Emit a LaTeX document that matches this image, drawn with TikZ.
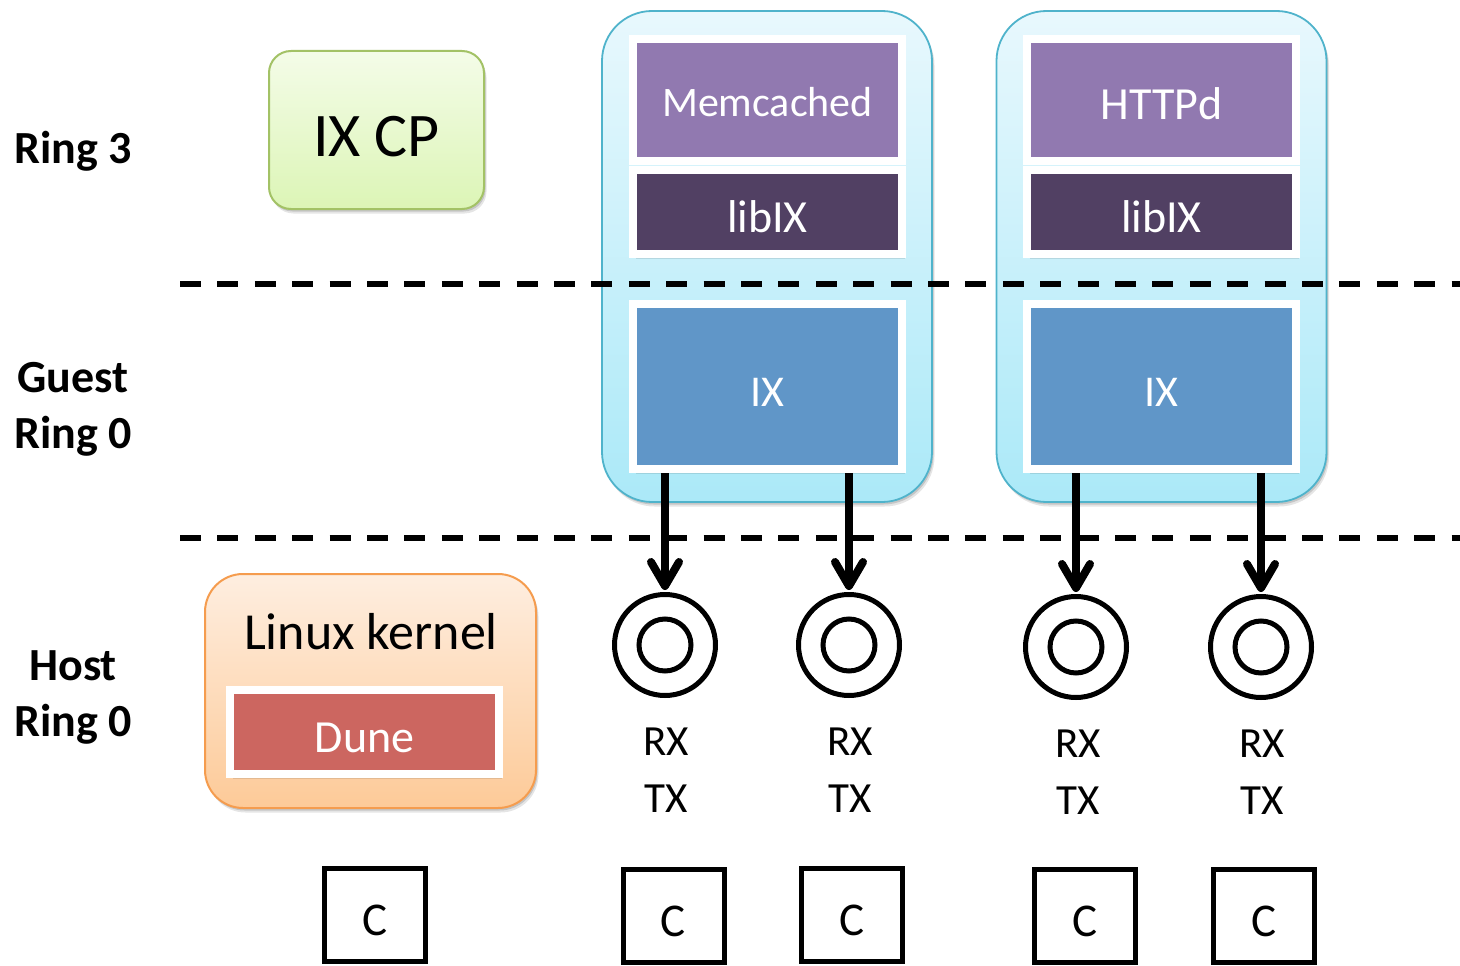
\documentclass[tikz,border=0pt]{standalone}
\usepackage{fontspec}
\setmainfont{Carlito}
\usetikzlibrary{arrows.meta,shadows}
\definecolor{cyanTop}{HTML}{E8F8FD}
\definecolor{cyanBot}{HTML}{ABE9F8}
\definecolor{cyanLine}{HTML}{4FB3CB}
\definecolor{greenTop}{HTML}{F4FCE8}
\definecolor{greenBot}{HTML}{DCF5B6}
\definecolor{greenLine}{HTML}{A3C266}
\definecolor{peachTop}{HTML}{FEEEE0}
\definecolor{peachBot}{HTML}{FDCA98}
\definecolor{peachLine}{HTML}{F59C4E}
\definecolor{appPurple}{HTML}{9179B0}
\definecolor{libPurple}{HTML}{514063}
\definecolor{ixBlue}{HTML}{6096C8}
\definecolor{duneRed}{HTML}{CC6660}
\begin{document}
\begin{tikzpicture}[x=1pt,y=-1pt,
  softshadow/.style={general shadow={shadow xshift=2.5pt,shadow yshift=-4.5pt,fill=black,opacity=.10},
                     general shadow={shadow xshift=1.5pt,shadow yshift=-2.5pt,fill=black,opacity=.14}},
  container/.style={rounded corners=50pt,draw=cyanLine,line width=1.8pt,top color=cyanTop,bottom color=cyanBot,
                    minimum width=330pt,minimum height=491pt,inner sep=0pt,softshadow},
  inbox/.style={draw=white,line width=8pt,minimum width=269pt,inner sep=0pt,text=white,
                font=\fontsize{46}{55}\selectfont,text depth=0pt,softshadow},
  ring/.style={circle,draw=black,line width=5pt,inner sep=0pt},
  cbox/.style={draw=black,line width=5pt,minimum width=101pt,minimum height=93pt,inner sep=0pt,
               font=\fontsize{47}{56}\selectfont,text height=41pt,text depth=0pt},
  lvl/.style={align=center,font=\bfseries\fontsize{46}{56}\selectfont},
  rxtx/.style={align=center,font=\fontsize{43}{57}\selectfont},
  dashline/.style={line width=5.5pt,dash pattern=on 21pt off 16.4pt},
  arr/.style={line width=8pt,-{Straight Barb[length=24pt,width=28pt,round]},shorten >=2pt}
]
\useasboundingbox (0,0) rectangle (1460,966);

% level labels
\node[lvl,anchor=base] (l3) at (73,163) {Ring 3};
\node[lvl] (lg) at (73,409) {Guest\\Ring 0};
\node[lvl] (lh) at (73,697.5) {Host\\Ring 0};

% IX CP
\node[rounded corners=22pt,draw=greenLine,line width=2pt,top color=greenTop,bottom color=greenBot,
      minimum width=215pt,minimum height=158pt,inner sep=0pt,softshadow,
      font=\fontsize{62}{74}\selectfont,text height=52pt,text depth=0pt] (ixcp) at (376.5,130) {IX CP};

% containers
\node[container] (contA) at (767,256.5) {};
\node[container] (contB) at (1161.5,256.5) {};

% column A
\node[inbox,fill=appPurple,minimum height=121pt,font=\fontsize{42}{50}\selectfont,text height=34pt] (appA) at (767.5,100) {Memcached};
\node[inbox,fill=libPurple,minimum height=84.5pt,text height=40.5pt] (libA) at (767.5,211.75) {libIX};
\node[inbox,fill=ixBlue,minimum height=165pt,font=\fontsize{44}{53}\selectfont,text height=39pt] (ixA) at (767.5,386.5) {IX};
% column B
\node[inbox,fill=appPurple,minimum height=121pt,text height=40pt] (appB) at (1161.5,100) {HTTPd};
\node[inbox,fill=libPurple,minimum height=84.5pt,text height=40.5pt] (libB) at (1161.5,211.75) {libIX};
\node[inbox,fill=ixBlue,minimum height=165pt,font=\fontsize{44}{53}\selectfont,text height=39pt] (ixB) at (1161.5,386.5) {IX};

% Linux kernel
\node[rounded corners=38pt,draw=peachLine,line width=2pt,top color=peachTop,bottom color=peachBot,
      minimum width=331pt,minimum height=234pt,inner sep=0pt,softshadow] (lk) at (370.5,691) {};
\node[anchor=base,font=\fontsize{52}{62}\selectfont] (lkt) at (371,649) {Linux kernel};
\node[inbox,fill=duneRed,minimum height=84pt,text height=40pt] (dune) at (364.5,732) {Dune};

% dashed separators
\coordinate (d1a) at (180,284); \coordinate (d1b) at (1460,284);
\coordinate (d2a) at (180,538); \coordinate (d2b) at (1460,538);
\draw[dashline] (d1a) -- (d1b);
\draw[dashline] (d2a) -- (d2b);

% rings
\foreach \n/\x/\y in {rA1/665/645, rA2/849/645, rB1/1076/647, rB2/1261/647}{
  \node[ring,minimum size=101pt] (\n) at (\x,\y) {};
  \node[ring,minimum size=52pt] (\n i) at (\n) {};
}

% arrows
\draw[arr] (ixA.south -| rA1) -- (rA1.north);
\draw[arr] (ixA.south -| rA2) -- (rA2.north);
\draw[arr] (ixB.south -| rB1) -- (rB1.north);
\draw[arr] (ixB.south -| rB2) -- (rB2.north);

% RX TX
\node[rxtx] (tA1) at (666,770) {RX\\TX};
\node[rxtx] (tA2) at (850,770) {RX\\TX};
\node[rxtx] (tB1) at (1078,772) {RX\\TX};
\node[rxtx] (tB2) at (1262,772) {RX\\TX};

% cores
\node[cbox] (c0) at (375,915) {C};
\node[cbox] (c1) at (673.5,915.5) {C};
\node[cbox] (c2) at (852,915) {C};
\node[cbox] (c3) at (1085,915.5) {C};
\node[cbox] (c4) at (1264,915.5) {C};
\end{tikzpicture}
\end{document}
